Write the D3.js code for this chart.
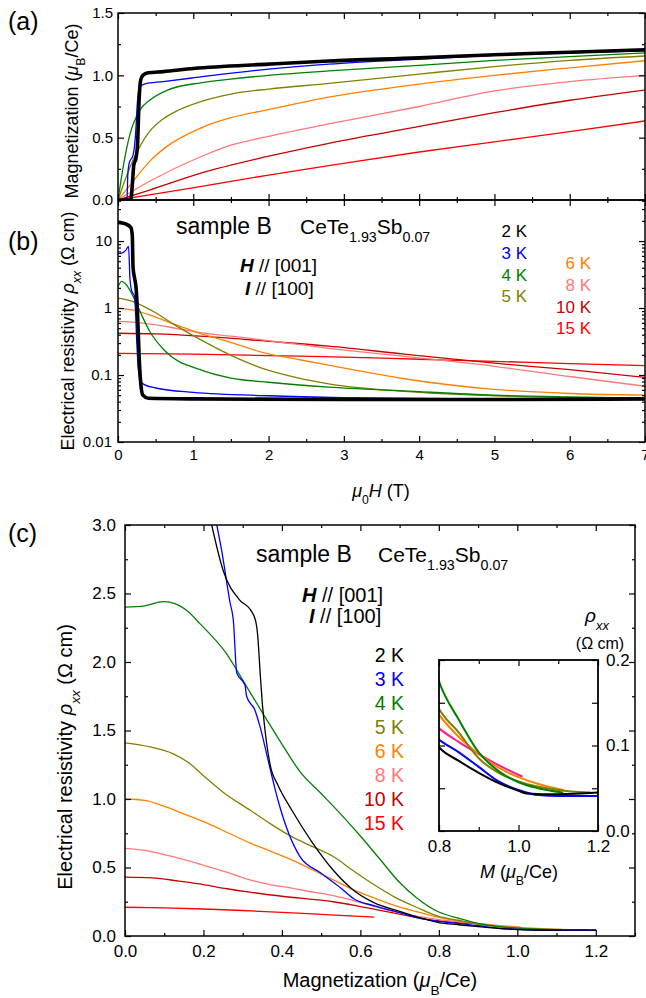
<!DOCTYPE html>
<html>
<head>
<meta charset="utf-8">
<script src="https://cdn.jsdelivr.net/npm/d3@7"></script>
<style>
body { margin: 0; background: #fff; }
svg { font-family: "Liberation Sans", Arial, Helvetica, sans-serif; }
</style>
</head>
<body>
<script>
// temperatures and their colours
var temps = ["2 K", "3 K", "4 K", "5 K", "6 K", "8 K", "10 K", "15 K"];
var colors = ["#000000", "#0000ff", "#008000", "#808000", "#ff8000", "#ff7878", "#c80000", "#ff0000"];
var insetPink = "#ff1a8c";

// (a) magnetization vs mu0H, [H (T), M (muB/Ce)]
var magH2 = [[0,0],[0.17,0],[0.19,0.12],[0.21,0.28],[0.24,0.34],[0.26,0.45],[0.28,0.8],[0.3,0.96],[0.33,1.0],[0.4,1.02],[0.6,1.03],[1,1.055],[2,1.09],[2.8,1.115],[4,1.14],[5,1.165],[6,1.185],[7,1.205]];
var magH3 = [[0,0],[0.12,0],[0.13,0.2],[0.15,0.3],[0.2,0.36],[0.23,0.5],[0.26,0.8],[0.29,0.91],[0.35,0.93],[0.6,0.95],[1,0.98],[2,1.05],[2.8,1.09],[4,1.13],[5,1.16],[6,1.18],[7,1.197]];
var magH4 = [[0,0],[0.07,0.27],[0.16,0.53],[0.29,0.72],[0.42,0.8],[0.65,0.88],[1.1,0.94],[1.5,0.97],[2,1.0],[2.8,1.035],[4,1.08],[5,1.12],[6,1.15],[7,1.18]];
var magH5 = [[0,0],[0.1,0.17],[0.2,0.32],[0.3,0.44],[0.42,0.55],[0.6,0.65],[0.8,0.72],[1.1,0.79],[1.5,0.85],[2,0.89],[2.8,0.935],[4,1.01],[5,1.07],[6,1.12],[7,1.155]];
var magH6 = [[0,0],[0.2,0.15],[0.42,0.31],[0.65,0.43],[1.09,0.575],[1.5,0.66],[2,0.725],[2.8,0.825],[4,0.93],[5,1.0],[6,1.06],[7,1.117]];
var magH8 = [[0,0],[0.42,0.15],[1.09,0.345],[1.5,0.44],[2,0.51],[2.8,0.61],[4,0.75],[5,0.875],[6,0.95],[7,1.0]];
var magH10 = [[0,0],[0.42,0.08],[1.09,0.214],[1.97,0.347],[2.8,0.455],[4,0.59],[5,0.7],[6,0.8],[7,0.882]];
var magH15 = [[0,0],[0.5,0.05],[1.09,0.107],[2,0.2],[2.8,0.275],[4,0.385],[5,0.467],[6,0.548],[7,0.634]];

// (b) resistivity vs mu0H, [H (T), rho (Ohm cm)]
var rhoH2 = [[0,19],[0.1,18],[0.17,16],[0.19,12],[0.2,4],[0.22,2.8],[0.24,2],[0.26,0.8],[0.28,0.2],[0.3,0.08],[0.33,0.05],[0.4,0.045],[1,0.044],[3,0.043],[5,0.043],[7,0.044]];
var rhoH3 = [[0,6.5],[0.05,6.6],[0.1,7.2],[0.14,8.3],[0.16,2.6],[0.19,1.7],[0.21,1.6],[0.23,1.0],[0.25,0.3],[0.27,0.12],[0.3,0.08],[0.35,0.072],[0.5,0.064],[1,0.055],[2,0.049],[3,0.046],[5,0.044],[7,0.043]];
var rhoH4 = [[0,2.1],[0.05,2.5],[0.1,2.3],[0.2,1.5],[0.3,0.85],[0.42,0.45],[0.64,0.22],[1.09,0.12],[1.5,0.09],[2,0.078],[2.8,0.066],[3.8,0.058],[5,0.05],[6,0.047],[7,0.045]];
var rhoH5 = [[0,1.41],[0.2,1.25],[0.34,1.06],[0.5,0.85],[0.71,0.6],[1.09,0.34],[1.53,0.19],[1.97,0.12],[2.4,0.09],[2.8,0.074],[3.8,0.057],[5,0.049],[6,0.046],[7,0.045]];
var rhoH6 = [[0,1.0],[0.2,0.93],[0.42,0.79],[0.7,0.6],[1.09,0.42],[1.53,0.3],[1.97,0.21],[2.4,0.17],[2.8,0.14],[3.8,0.088],[5,0.061],[6,0.053],[7,0.05]];
var rhoH8 = [[0,0.63],[0.3,0.6],[0.64,0.53],[1.09,0.43],[1.5,0.38],[1.97,0.33],[2.8,0.25],[3.8,0.19],[5,0.135],[6,0.095],[7,0.068]];
var rhoH10 = [[0,0.42],[0.5,0.41],[1.09,0.38],[1.97,0.32],[2.8,0.27],[3.8,0.205],[5,0.15],[6,0.12],[7,0.092]];
var rhoH15 = [[0,0.21],[1,0.205],[2,0.195],[3,0.185],[4,0.172],[5,0.16],[6,0.148],[7,0.138]];

// (c) resistivity vs magnetization, [M (muB/Ce), rho (Ohm cm)]
var rhoM2 = [[0.221,3.0],[0.25,2.67],[0.293,2.45],[0.32,2.38],[0.333,2.3],[0.338,2.2],[0.345,1.9],[0.35,1.7],[0.357,1.5],[0.37,1.25],[0.39,1.1],[0.425,0.92],[0.478,0.68],[0.531,0.48],[0.584,0.33],[0.637,0.24],[0.7,0.18],[0.75,0.135],[0.8,0.098],[0.85,0.082],[0.9,0.068],[0.95,0.056],[1.0,0.047],[1.02,0.044],[1.1,0.043],[1.2,0.045]];
var rhoM3 = [[0.234,3.0],[0.246,2.82],[0.268,2.43],[0.276,2.31],[0.285,1.92],[0.306,1.83],[0.31,1.75],[0.331,1.65],[0.344,1.53],[0.361,1.33],[0.37,1.22],[0.391,0.98],[0.446,0.58],[0.499,0.46],[0.55,0.35],[0.584,0.27],[0.637,0.22],[0.7,0.17],[0.75,0.13],[0.8,0.107],[0.85,0.092],[0.9,0.075],[0.95,0.058],[1.0,0.048],[1.05,0.042],[1.1,0.041],[1.2,0.041]];
var rhoM4 = [[0,2.40],[0.05,2.41],[0.098,2.44],[0.123,2.43],[0.16,2.37],[0.191,2.28],[0.259,2.06],[0.31,1.82],[0.361,1.58],[0.4,1.4],[0.446,1.2],[0.5,1.04],[0.55,0.89],[0.6,0.73],[0.65,0.56],[0.7,0.39],[0.743,0.28],[0.8,0.175],[0.85,0.13],[0.9,0.092],[0.95,0.07],[1.0,0.057],[1.05,0.05],[1.11,0.045]];
var rhoM5 = [[0,1.41],[0.064,1.38],[0.123,1.33],[0.16,1.27],[0.2,1.17],[0.25,1.05],[0.318,0.92],[0.37,0.82],[0.425,0.725],[0.48,0.65],[0.531,0.58],[0.58,0.48],[0.637,0.37],[0.69,0.28],[0.743,0.21],[0.8,0.143],[0.85,0.115],[0.9,0.085],[0.95,0.068],[1.0,0.058],[1.1,0.048],[1.18,0.045]];
var rhoM6 = [[0,1.0],[0.05,0.99],[0.106,0.94],[0.16,0.88],[0.212,0.82],[0.265,0.75],[0.318,0.68],[0.37,0.62],[0.425,0.555],[0.48,0.48],[0.531,0.41],[0.58,0.34],[0.637,0.275],[0.69,0.22],[0.743,0.178],[0.8,0.136],[0.85,0.11],[0.9,0.09],[0.95,0.074],[1.0,0.063],[1.05,0.055],[1.112,0.048]];
var rhoM8 = [[0,0.64],[0.05,0.625],[0.106,0.59],[0.16,0.55],[0.212,0.506],[0.265,0.46],[0.318,0.41],[0.37,0.375],[0.425,0.35],[0.48,0.32],[0.531,0.295],[0.58,0.26],[0.637,0.215],[0.69,0.175],[0.743,0.145],[0.8,0.12],[0.85,0.104],[0.9,0.09],[0.95,0.077],[1.008,0.064]];
var rhoM10 = [[0,0.43],[0.07,0.425],[0.138,0.4],[0.2,0.375],[0.26,0.345],[0.318,0.32],[0.4,0.29],[0.531,0.25],[0.6,0.215],[0.637,0.195],[0.7,0.16],[0.76,0.125],[0.82,0.105],[0.882,0.09]];
var rhoM15 = [[0,0.21],[0.1,0.205],[0.2,0.197],[0.3,0.186],[0.4,0.173],[0.5,0.158],[0.6,0.143],[0.634,0.138]];

var magH = [magH2, magH3, magH4, magH5, magH6, magH8, magH10, magH15];
var rhoH = [rhoH2, rhoH3, rhoH4, rhoH5, rhoH6, rhoH8, rhoH10, rhoH15];
var rhoM = [rhoM2, rhoM3, rhoM4, rhoM5, rhoM6, rhoM8, rhoM10, rhoM15];

var svg = d3.select("body").append("svg").attr("width", 646).attr("height", 998);

function range(a, b, step) {
  var out = [];
  for (var v = a; v <= b + 1e-9; v += step) out.push(+v.toFixed(4));
  return out;
}

// inward ticks, optional labels
function ticks(axisFn, scale, vals, len, tr, fmt, pad, size) {
  var ax = axisFn(scale).tickValues(vals).tickSize(-len).tickPadding(pad || 4)
    .tickFormat(fmt || function() { return ""; });
  var g = svg.append("g").attr("transform", tr).call(ax);
  g.select(".domain").remove();
  g.attr("font-family", null).attr("font-size", size || 15);
  g.selectAll("line").attr("stroke", "#000").attr("stroke-width", 1.2);
  g.selectAll("text").attr("fill", "#000");
  return g;
}

function frame(x0, y0, x1, y1, w) {
  svg.append("rect").attr("x", x0).attr("y", y0).attr("width", x1 - x0).attr("height", y1 - y0)
    .attr("fill", "none").attr("stroke", "#000").attr("stroke-width", w || 1.5);
}

function clip(id, x0, y0, x1, y1) {
  svg.append("clipPath").attr("id", id).append("rect")
    .attr("x", x0).attr("y", y0).attr("width", x1 - x0).attr("height", y1 - y0);
  return "url(#" + id + ")";
}

// text with italic / bold / subscript pieces
function rich(x, y, parts, size, opt) {
  opt = opt || {};
  var t = svg.append("text").attr("x", x).attr("y", y).attr("font-size", size)
    .attr("fill", opt.fill || "#000").attr("text-anchor", opt.anchor || "start");
  if (opt.rotate) t.attr("transform", "rotate(-90," + x + "," + y + ")");
  parts.forEach(function(p) {
    var s = t.append("tspan").text(p[0]);
    var st = p[1] || "";
    if (st.indexOf("i") >= 0) s.attr("font-style", "italic");
    if (st.indexOf("b") >= 0) s.attr("font-weight", "bold");
    if (st.indexOf("s") >= 0) s.attr("baseline-shift", "sub").attr("font-size", size * 0.68);
  });
  return t;
}

function drawLines(data, xs, ys, cp, widthFn, colorFn, order) {
  var line = d3.line().x(function(d) { return xs(d[0]); }).y(function(d) { return ys(d[1]); })
    .curve(d3.curveMonotoneX);
  var g = svg.append("g").attr("clip-path", cp);
  order.forEach(function(i) {
    g.append("path").attr("d", line(data[i])).attr("fill", "none")
      .attr("stroke", colorFn(i)).attr("stroke-width", widthFn(i))
      .attr("stroke-linejoin", "round").attr("stroke-linecap", "round");
  });
}

var back = [7, 6, 5, 4, 3, 2, 1, 0];
var intTicks = range(0, 7, 1), halfTicks = range(0.5, 6.5, 1);

// ---------- (a) ----------
var xA = d3.scaleLinear().domain([0, 7]).range([118, 645]);
var yA = d3.scaleLinear().domain([0, 1.5]).range([200, 13]);

drawLines(magH, xA, yA, clip("ca", 118, 13, 645, 200),
  function(i) { return i === 0 ? 3.6 : 1.3; }, function(i) { return colors[i]; }, back);

ticks(d3.axisLeft, yA, range(0, 1.5, 0.5), 6, "translate(118,0)", d3.format(".1f"), 5);
ticks(d3.axisLeft, yA, range(0.25, 1.25, 0.5), 3, "translate(118,0)");
ticks(d3.axisRight, yA, range(0, 1.5, 0.5), 6, "translate(645,0)");
ticks(d3.axisRight, yA, range(0.25, 1.25, 0.5), 3, "translate(645,0)");
ticks(d3.axisBottom, xA, intTicks, 6, "translate(0,200)");
ticks(d3.axisBottom, xA, halfTicks, 3, "translate(0,200)");
ticks(d3.axisTop, xA, intTicks, 6, "translate(0,13)");
ticks(d3.axisTop, xA, halfTicks, 3, "translate(0,13)");
frame(118, 13, 645, 200);

rich(8, 30, [["(a)"]], 25);
rich(78, 111, [["Magnetization ("], ["\u03bc", "i"], ["B", "s"], ["/Ce)"]], 18, { anchor: "middle", rotate: true });

// ---------- (b) ----------
var yB = d3.scaleLog().domain([0.01, 41]).range([442, 200]);
var decades = [0.01, 0.1, 1, 10];
var minorLog = [];
[0.01, 0.1, 1, 10].forEach(function(d) {
  for (var k = 2; k <= 9; k++) if (k * d <= 41) minorLog.push(+(k * d).toPrecision(3));
});

drawLines(rhoH, xA, yB, clip("cb", 118, 200, 645, 442),
  function(i) { return i === 0 ? 3.6 : 1.3; }, function(i) { return colors[i]; }, back);

ticks(d3.axisLeft, yB, decades, 6, "translate(118,0)", function(d) { return String(d); }, 6);
ticks(d3.axisLeft, yB, minorLog, 3, "translate(118,0)");
ticks(d3.axisRight, yB, decades, 6, "translate(645,0)");
ticks(d3.axisRight, yB, minorLog, 3, "translate(645,0)");
ticks(d3.axisBottom, xA, intTicks, 6, "translate(0,442)", d3.format("d"), 7);
ticks(d3.axisBottom, xA, halfTicks, 3, "translate(0,442)");
ticks(d3.axisTop, xA, intTicks, 6, "translate(0,200)");
ticks(d3.axisTop, xA, halfTicks, 3, "translate(0,200)");
frame(118, 200, 645, 442);

rich(8, 250, [["(b)"]], 25);
rich(74, 331, [["Electrical resistivity "], ["\u03c1", "i"], ["xx", "is"], [" (\u03a9 cm)"]], 18, { anchor: "middle", rotate: true });
rich(381, 497, [["\u03bc", "i"], ["0", "s"], ["H", "i"], [" (T)"]], 18, { anchor: "middle" });

rich(176, 234, [["sample B"]], 23);
rich(300, 234, [["CeTe"], ["1.93", "s"], ["Sb"], ["0.07", "s"]], 21);
rich(240, 272, [["H", "bi"], [" // [001]"]], 19);
rich(245, 295, [["I", "bi"], [" // [100]"]], 19);

var legB = [[527, 237], [527, 259], [527, 281], [527, 302], [591, 269], [591, 291], [591, 313], [591, 334]];
temps.forEach(function(t, i) {
  rich(legB[i][0], legB[i][1], [[t]], 17, { anchor: "end", fill: colors[i] });
});

// ---------- (c) ----------
var xC = d3.scaleLinear().domain([0, 1.3]).range([125, 635]);
var yC = d3.scaleLinear().domain([0, 3]).range([936, 525]);

drawLines(rhoM, xC, yC, clip("cc", 125, 525, 635, 936),
  function() { return 1.3; }, function(i) { return colors[i]; }, back);

ticks(d3.axisLeft, yC, range(0, 3, 0.5), 6, "translate(125,0)", d3.format(".1f"), 9, 17);
ticks(d3.axisLeft, yC, range(0.25, 2.75, 0.5), 3, "translate(125,0)");
ticks(d3.axisRight, yC, range(0, 3, 0.5), 6, "translate(635,0)");
ticks(d3.axisRight, yC, range(0.25, 2.75, 0.5), 3, "translate(635,0)");
ticks(d3.axisBottom, xC, range(0, 1.2, 0.2), 6, "translate(0,936)", d3.format(".1f"), 9, 17);
ticks(d3.axisBottom, xC, range(0.1, 1.3, 0.2), 3, "translate(0,936)");
ticks(d3.axisTop, xC, range(0, 1.2, 0.2), 6, "translate(0,525)");
ticks(d3.axisTop, xC, range(0.1, 1.3, 0.2), 3, "translate(0,525)");
frame(125, 525, 635, 936);

rich(8, 542, [["(c)"]], 25);
rich(72, 757, [["Electrical resistivity "], ["\u03c1", "i"], ["xx", "is"], [" (\u03a9 cm)"]], 20, { anchor: "middle", rotate: true });
rich(380, 987, [["Magnetization ("], ["\u03bc", "i"], ["B", "s"], ["/Ce)"]], 20, { anchor: "middle" });

rich(256, 562, [["sample B"]], 23);
rich(378, 562, [["CeTe"], ["1.93", "s"], ["Sb"], ["0.07", "s"]], 21);
rich(302, 602, [["H", "bi"], [" // [001]"]], 20);
rich(309, 623, [["I", "bi"], [" // [100]"]], 20);

temps.forEach(function(t, i) {
  rich(404, 662 + i * 24, [[t]], 19.5, { anchor: "end", fill: colors[i] });
});

// ---------- inset ----------
var xI = d3.scaleLinear().domain([0.8, 1.2]).range([439, 598]);
var yI = d3.scaleLinear().domain([0, 0.2]).range([831, 660]);

svg.append("rect").attr("x", 439).attr("y", 660).attr("width", 159).attr("height", 171).attr("fill", "#fff");
drawLines(rhoM, xI, yI, clip("ci", 439, 660, 598, 831),
  function() { return 2; }, function(i) { return i === 5 ? insetPink : colors[i]; }, [5, 4, 3, 2, 1, 0]);

ticks(d3.axisLeft, yI, [0, 0.1, 0.2], 6, "translate(439,0)");
ticks(d3.axisLeft, yI, [0.05, 0.15], 6, "translate(439,0)");
ticks(d3.axisRight, yI, [0, 0.1, 0.2], 6, "translate(598,0)", d3.format(".1f"), 8, 17);
ticks(d3.axisRight, yI, [0.05, 0.15], 6, "translate(598,0)");
ticks(d3.axisBottom, xI, [0.8, 1.0, 1.2], 6, "translate(0,831)", d3.format(".1f"), 9, 17);
ticks(d3.axisBottom, xI, [0.9, 1.1], 4, "translate(0,831)");
ticks(d3.axisTop, xI, [0.8, 1.0, 1.2], 6, "translate(0,660)");
ticks(d3.axisTop, xI, [0.9, 1.1], 4, "translate(0,660)");
frame(439, 660, 598, 831, 1.8);

rich(519, 878, [["M", "i"], [" ("], ["\u03bc", "i"], ["B", "s"], ["/Ce)"]], 18, { anchor: "middle" });
rich(597, 622, [["\u03c1", "i"], ["xx", "is"]], 19, { anchor: "middle" });
rich(600, 649, [["(\u03a9 cm)"]], 16, { anchor: "middle" });
</script>
</body>
</html>
